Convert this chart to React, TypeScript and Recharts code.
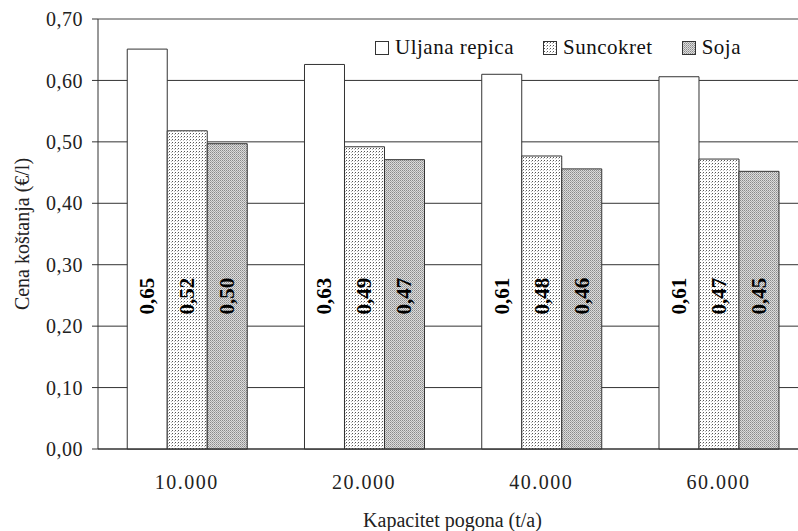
import React from 'react'
import { BarChart, Bar, XAxis, YAxis, CartesianGrid, Legend, LabelList, ReferenceLine } from 'recharts'

const categories = ['10.000', '20.000', '40.000', '60.000']
const uljanaRepica = [0.651, 0.626, 0.61, 0.606]
const suncokret = [0.518, 0.492, 0.477, 0.472]
const soja = [0.497, 0.471, 0.456, 0.452]
const yTicks = [0, 0.1, 0.2, 0.3, 0.4, 0.5, 0.6, 0.7]
const edgeTicks = [0, 1, 2, 3, 4]

const seriesNames = ['Uljana repica', 'Suncokret', 'Soja']
const seriesFills = ['#ffffff', 'url(#patSuncokret)', 'url(#patSoja)']

const data = categories.map((c, i) => ({
    kapacitet: c,
    uljana: uljanaRepica[i],
    suncokret: suncokret[i],
    soja: soja[i],
}))

const serif = '"Liberation Serif"'
const comma = (v: number) => v.toFixed(2).replace('.', ',')

const BarValue = (props: any) => {
    const { x, y, width, height, value } = props
    const cx = x + width / 2
    const cy = y + height - 153
    return (
        <text
            x={cx}
            y={cy}
            transform={`rotate(-90 ${cx} ${cy})`}
            textAnchor="middle"
            dominantBaseline="central"
            style={{ fontFamily: serif, fontWeight: 'bold', fontSize: 21 }}
            fill="#000"
        >
            {comma(value)}
        </text>
    )
}

const LegendBox = () => (
    <div style={{ display: 'flex', alignItems: 'center', fontFamily: serif, fontSize: 21, letterSpacing: 0.5, color: '#111' }}>
        {seriesNames.map((n, i) => (
            <div key={n} style={{ display: 'flex', alignItems: 'center', marginRight: 29 }}>
                <svg width={14} height={14} style={{ marginRight: 6 }}>
                    <rect x={0.5} y={0.5} width={13} height={13} fill={seriesFills[i]} stroke="#333" />
                </svg>
                <span>{n}</span>
            </div>
        ))}
    </div>
)

// y axis title, centred on the plot height (19..449)
const YTitle = () => {
    const cx = 22
    const cy = 234
    return (
        <text
            x={cx}
            y={cy}
            transform={`rotate(-90 ${cx} ${cy})`}
            textAnchor="middle"
            dominantBaseline="central"
            style={{ fontFamily: serif, fontSize: 20 }}
            fill="#222"
        >
            Cena koštanja (€/l)
        </text>
    )
}

export default function App() {
    return (
        <div style={{ position: 'absolute', left: 0, top: 0, width: 798, height: 531, overflow: 'hidden', background: '#fff', fontFamily: serif }}>
            <BarChart
                width={830}
                height={531}
                data={data}
                margin={{ top: 19, right: 23, left: 8, bottom: 0 }}
                barCategoryGap="16.5%"
                barGap={0}
                style={{ fontFamily: serif }}
            >
                <defs>
                    <pattern id="patSuncokret" width={3} height={3} patternUnits="userSpaceOnUse">
                        <rect width={3} height={3} fill="#ffffff" />
                        <rect x={1} y={1} width={1} height={1} fill="#555" />
                        <rect x={0} y={2} width={1} height={1} fill="#bbb" />
                    </pattern>
                    <pattern id="patSoja" width={2} height={2} patternUnits="userSpaceOnUse">
                        <rect width={2} height={2} fill="#dcdcdc" />
                        <rect x={0} y={0} width={1} height={1} fill="#8a8a8a" />
                        <rect x={1} y={1} width={1} height={1} fill="#a8a8a8" />
                    </pattern>
                </defs>
                <CartesianGrid vertical={false} stroke="#333" />
                <ReferenceLine y={0.7} stroke="#aaa" />
                <XAxis
                    xAxisId="edges"
                    type="number"
                    domain={[0, 4]}
                    ticks={edgeTicks}
                    tick={false}
                    axisLine={false}
                    tickSize={6}
                    tickLine={{ stroke: '#333' }}
                    height={0}
                />
                <XAxis
                    xAxisId="cat"
                    dataKey="kapacitet"
                    height={82}
                    tickLine={false}
                    tickSize={0}
                    tickMargin={26}
                    axisLine={{ stroke: '#333' }}
                    tick={{ fill: '#222', fontSize: 20, fontFamily: serif, letterSpacing: 1.5 }}
                    label={{ value: 'Kapacitet pogona (t/a)', position: 'insideBottom', offset: 4, fill: '#222', fontSize: 20, fontFamily: serif }}
                />
                <YAxis
                    width={90}
                    domain={[0, 0.7]}
                    ticks={yTicks}
                    tickFormatter={comma}
                    tickSize={6}
                    tickMargin={9}
                    axisLine={{ stroke: '#333' }}
                    tickLine={{ stroke: '#333' }}
                    tick={{ fill: '#222', fontSize: 20, fontFamily: serif, letterSpacing: 0.5 }}
                    label={{ content: YTitle }}
                />
                <Legend
                    layout="horizontal"
                    verticalAlign="middle"
                    align="center"
                    wrapperStyle={{ top: 35, left: 375, width: 'auto' }}
                    content={LegendBox}
                />
                <Bar xAxisId="cat" dataKey="uljana" fill={seriesFills[0]} stroke="#333" isAnimationActive={false}>
                    <LabelList dataKey="uljana" content={BarValue} />
                </Bar>
                <Bar xAxisId="cat" dataKey="suncokret" fill={seriesFills[1]} stroke="#333" isAnimationActive={false}>
                    <LabelList dataKey="suncokret" content={BarValue} />
                </Bar>
                <Bar xAxisId="cat" dataKey="soja" fill={seriesFills[2]} stroke="#333" isAnimationActive={false}>
                    <LabelList dataKey="soja" content={BarValue} />
                </Bar>
            </BarChart>
        </div>
    )
}
